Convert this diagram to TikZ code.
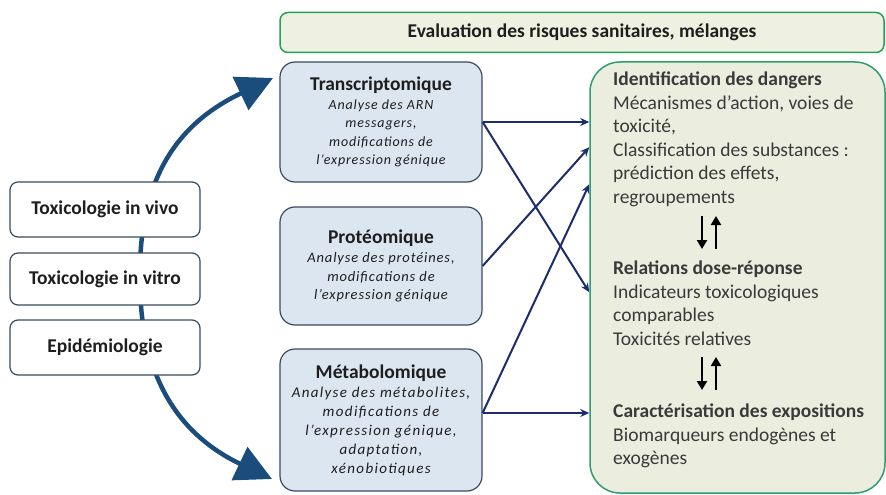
\documentclass[tikz,border=0pt]{standalone}
\usepackage{fontspec}
\setmainfont{Carlito}
\newfontfamily\itfont{Carlito}[LetterSpace=6]
\newfontfamily\itfontw{Carlito}[LetterSpace=9]
\usetikzlibrary{arrows.meta,calc}
\definecolor{omicfill}{HTML}{DCE6F1}
\definecolor{omicdraw}{HTML}{3A4A5E}
\definecolor{bigfill}{HTML}{EBEEDF}
\definecolor{bigdraw}{HTML}{2E9E6E}
\definecolor{banfill}{HTML}{EEF0E2}
\definecolor{bandraw}{HTML}{23A455}
\definecolor{navy}{HTML}{1D2C6B}
\definecolor{bigblue}{HTML}{1A4C7C}
\definecolor{txt}{HTML}{1E1E1E}
\definecolor{txtgrey}{HTML}{3A3A3A}
\tikzset{
  leftbox/.style={draw=omicdraw, line width=1.2pt, fill=white, rounded corners=8pt,
    minimum width=190pt, inner sep=0pt, font=\fontsize{19.5}{22}\selectfont\bfseries, text=txt},
  omicbox/.style={draw=omicdraw, line width=1.2pt, fill=omicfill, rounded corners=15pt,
    minimum width=202pt, inner sep=0pt, align=center, text=txt},
  bigbox/.style={draw=bigdraw, line width=1.5pt, fill=bigfill, rounded corners=30pt,
    minimum width=295pt, minimum height=431pt, inner sep=0pt},
  banner/.style={draw=bandraw, line width=1.5pt, fill=banfill, rounded corners=8pt,
    minimum width=604pt, minimum height=40pt, inner sep=0pt,
    font=\fontsize{19.5}{22}\selectfont\bfseries, text=txt},
  rtext/.style={anchor=north west, inner sep=0pt, align=left, text=txtgrey,
    font=\fontsize{19.5}{23.5}\selectfont},
  navyarrow/.style={draw=navy, line width=2pt, -{Stealth[length=9pt,width=8pt]}},
  bigarrow/.style={draw=bigblue, line width=4.5pt,
    {Triangle[length=36pt,width=36pt]}-{Triangle[length=36pt,width=36pt]}},
  dblarrow/.style={draw=black, line width=2.8pt, -{Triangle[length=9pt,width=10pt]}}
}
\newcommand{\otitle}[1]{{\fontsize{19.5}{21}\selectfont\normalfont\bfseries #1}}
\begin{document}
\begin{tikzpicture}[x=1pt,y=-1pt]
\useasboundingbox[fill=white] (0,0) rectangle (886,495);

% big curved arrow (drawn first, behind the boxes)
\coordinate (topTip) at (273,78);
\coordinate (botTip) at (272,479);
\coordinate (mid) at (140,280);
\draw[bigarrow] (topTip) .. controls (185,120) and (138,170) .. (mid)
  .. controls (140,390) and (190,440) .. (botTip);

% banner
\node[banner] (ban) at (582,32.5) {Evaluation des risques sanitaires, mélanges};

% left boxes
\node[leftbox, minimum height=55pt] (vivo) at (105,209.5) {Toxicologie in vivo};
\node[leftbox, minimum height=52pt] (vitro) at (105,279) {Toxicologie in vitro};
\node[leftbox, minimum height=55pt] (epi) at (105,347.5) {Epidémiologie};

% omics boxes
\node[omicbox, minimum height=120pt, font=\fontsize{14}{18.5}\selectfont\itfont\itshape] (T) at (381,122)
  {\otitle{Transcriptomique}\\Analyse des ARN\\messagers,\\modifications de\\l’expression génique};
\node[omicbox, minimum height=118pt, font=\fontsize{14.5}{18.8}\selectfont\itfont\itshape] (P) at (381,266)
  {\otitle{Protéomique}\\Analyse des protéines,\\modifications de\\l’expression génique};
\node[omicbox, minimum height=142pt, font=\fontsize{15}{19}\selectfont\itfontw\itshape] (M) at (381,420)
  {\otitle{Métabolomique}\\Analyse des métabolites,\\modifications de\\l’expression génique,\\adaptation,\\xénobiotiques};

% big right box
\node[bigbox] (R) at (737.5,277.5) {};

\node[rtext] (r1) at (613,72)
  {\textbf{Identification des dangers}\\
   Mécanismes d’action, voies de\\
   toxicité,\\
   Classification des substances :\\
   prédiction des effets,\\
   regroupements};
\node[rtext] (r2) at (613,261)
  {\textbf{Relations dose-réponse}\\
   Indicateurs toxicologiques\\
   comparables\\
   Toxicités relatives};
\node[rtext] (r3) at (613,404)
  {\textbf{Caractérisation des expositions}\\
   Biomarqueurs endogènes et\\
   exogènes};

% double arrows
\coordinate (d1a) at (702,216);
\coordinate (d1b) at (702,249);
\coordinate (u1a) at (716,249);
\coordinate (u1b) at (716,216);
\draw[dblarrow] (d1a) -- (d1b);
\draw[dblarrow] (u1a) -- (u1b);
\coordinate (d2a) at (702,357);
\coordinate (d2b) at (702,390);
\coordinate (u2a) at (716,390);
\coordinate (u2b) at (716,357);
\draw[dblarrow] (d2a) -- (d2b);
\draw[dblarrow] (u2a) -- (u2b);

% connectors omics -> risk box
\coordinate (Mout) at ([yshift=7pt]M.east);
\draw[navyarrow] (T.east) -- (T.east -| R.west);
\draw[navyarrow] (T.east) -- ($(R.north west)+(0,231)$);
\draw[navyarrow] (P.east) -- ($(R.north west)+(0,86)$);
\draw[navyarrow] (Mout) -- ($(R.north west)+(0,123)$);
\draw[navyarrow] (Mout) -- (Mout -| R.west);
\end{tikzpicture}
\end{document}
